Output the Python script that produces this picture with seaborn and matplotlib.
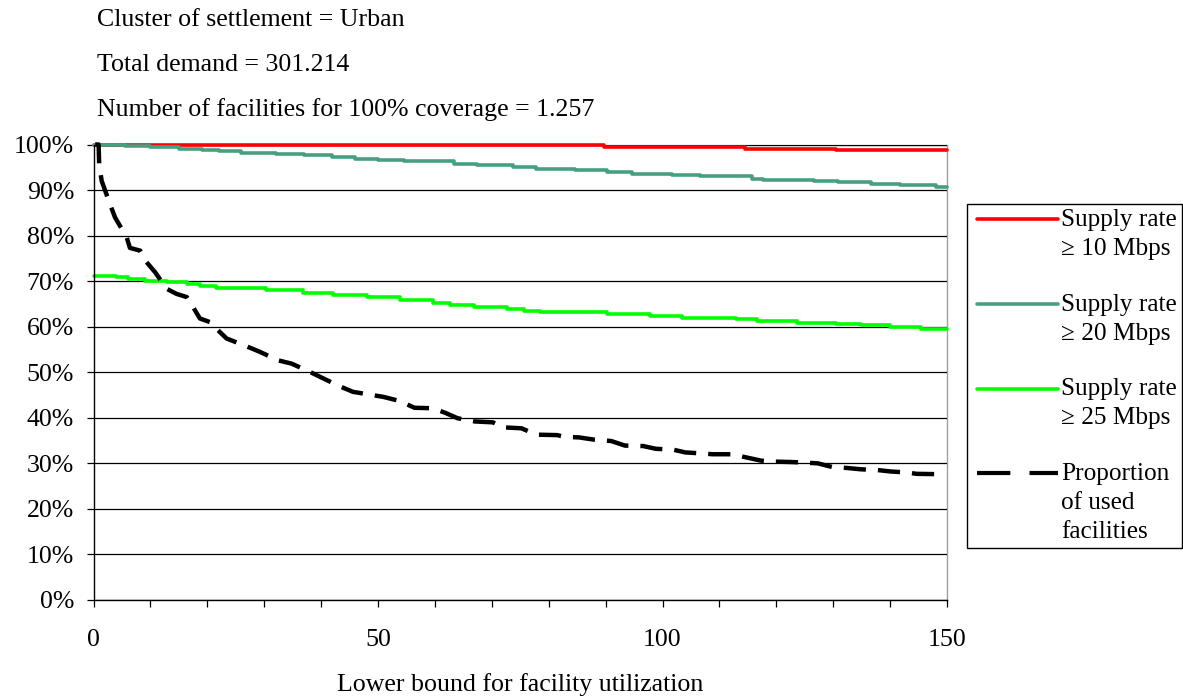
import numpy as np
import pandas as pd
import matplotlib
matplotlib.use("Agg")
import matplotlib.pyplot as plt
import seaborn as sns
from matplotlib.lines import Line2D
from matplotlib.legend_handler import HandlerLine2D
from matplotlib.ticker import MultipleLocator, FixedLocator, FuncFormatter

# Coverage (%) against the lower bound for facility utilization
rate10_x = [0, 89.7, 114.5, 130.5, 150]
rate10_y = [99.8, 99.4, 99.0, 98.7, 98.7]

rate20_x = [0, 5.5, 10, 15, 19, 22, 26, 32, 37, 42, 46, 50, 54.5, 63.3, 67.4,
            73.7, 77.8, 84.7, 90.3, 94.7, 101.6, 106.6, 115.7, 117.6, 126.7,
            130.8, 136.7, 141.7, 148.0, 150]
rate20_y = [100, 99.7, 99.4, 99.1, 98.8, 98.5, 98.2, 97.9, 97.6, 97.2, 96.9,
            96.6, 96.3, 95.8, 95.5, 95.0, 94.6, 94.3, 94.0, 93.6, 93.4, 93.1,
            92.5, 92.3, 91.9, 91.7, 91.4, 91.0, 90.7, 90.7]

rate25_x = [0, 4, 6, 9, 13, 16.4, 18.7, 21.6, 30.4, 36.8, 42.1, 48, 53.8, 59.6,
            62.7, 66.8, 72.7, 75.6, 78.4, 90.3, 97.8, 103.5, 112.9, 116.6,
            123.6, 130.5, 134.8, 139.9, 145.5, 150]
rate25_y = [71.1, 70.9, 70.4, 70.1, 69.8, 69.4, 68.9, 68.5, 68.0, 67.4, 67.0,
            66.5, 65.9, 65.3, 64.8, 64.3, 63.8, 63.5, 63.3, 62.8, 62.3, 62.0,
            61.6, 61.3, 60.9, 60.7, 60.4, 60.0, 59.6, 59.6]

used_x = [0.3, 0.9, 1.0, 1.44, 2.9, 3.78, 5.84, 6.4, 8.2, 9.3, 10.8, 12.9,
          14.6, 16.4, 17.5, 18.7, 20.5, 21.9, 23.4, 26.9, 29.2, 32.5, 34.8,
          38.0, 39.8, 43.3, 45.6, 48, 50.9, 53.8, 56.4, 59.6, 61.8, 64.0, 67,
          70.2, 72, 75.2, 77.8, 81.5, 82.8, 85.3, 88, 91, 93.4, 96.6, 98.8,
          101.9, 104, 106.6, 108.8, 112.3, 114, 117.3, 119.2, 122.3, 124.5,
          127.3, 129.8, 132.3, 134.8, 138, 140.2, 143, 144.6, 149.5]
used_y = [100, 100, 95.5, 92, 86.9, 84, 79.6, 77.3, 76.7, 74.2, 72, 68.3,
          67.2, 66.5, 64.3, 61.8, 61.0, 59.2, 57.4, 55.7, 54.5, 52.6, 51.9,
          50.1, 49.0, 46.9, 45.7, 45.2, 44.6, 43.7, 42.2, 42.1, 41.1, 39.9,
          39.2, 39.0, 37.9, 37.7, 36.3, 36.2, 35.8, 35.7, 35.2, 34.9, 33.9,
          33.8, 33.2, 33.0, 32.4, 32.2, 32.0, 32.0, 31.5, 30.6, 30.4, 30.3,
          30.2, 30.0, 29.2, 29.0, 28.7, 28.5, 28.2, 28.0, 27.7, 27.6]

series_labels = ["Supply rate\n\u2265 10 Mbps", "Supply rate\n\u2265 20 Mbps",
                 "Supply rate\n\u2265 25 Mbps", "Proportion\nof used\nfacilities"]
header_lines = ["Cluster of settlement = Urban",
                "Total demand = 301.214",
                "Number of facilities for 100% coverage = 1.257"]
x_label = "Lower bound for facility utilization"

red, teal, green = "#ff0000", "#46a080", "#00ff00"
dash = (0, (5.0, 2.7))
fs = 18.6
legend_fs = 18.2

sns.set_theme(style="white")
plt.rcParams["font.family"] = ["Liberation Serif", "DejaVu Serif"]
plt.rcParams["text.color"] = "black"

fig = plt.figure(figsize=(11.83, 6.98), dpi=100)
ax = fig.add_axes([93.5 / 1183, 1 - 600 / 698, (947 - 93.5) / 1183, (600 - 144.5) / 698])

sns.lineplot(x=rate10_x, y=rate10_y, ax=ax, color=red, lw=2.6,
             drawstyle="steps-post", errorbar=None, legend=False, clip_on=False)
sns.lineplot(x=rate20_x, y=rate20_y, ax=ax, color=teal, lw=2.6,
             drawstyle="steps-post", errorbar=None, legend=False, clip_on=False)
sns.lineplot(x=rate25_x, y=rate25_y, ax=ax, color=green, lw=2.6,
             drawstyle="steps-post", errorbar=None, legend=False, clip_on=False)
sns.lineplot(x=used_x, y=used_y, ax=ax, color="black", lw=3.2,
             linestyle=dash, errorbar=None, legend=False, clip_on=False)

ax.set_xlim(0, 150)
ax.set_ylim(0, 100)
ax.xaxis.set_major_locator(FixedLocator([0, 50, 100, 150]))
ax.xaxis.set_minor_locator(MultipleLocator(10))
ax.yaxis.set_major_locator(MultipleLocator(10))
ax.yaxis.set_major_formatter(FuncFormatter(lambda v, p: f"{v:.0f}%"))
ax.tick_params(axis="both", which="both", direction="out", length=5, width=0.9,
               color="black", bottom=True, left=True, labelsize=fs,
               labelcolor="black")
ax.tick_params(axis="x", which="major", pad=16)
ax.tick_params(axis="y", which="major", pad=9)
ax.grid(axis="y", color="black", lw=0.9)
ax.set_axisbelow(True)
for side in ("left", "bottom"):
    ax.spines[side].set_color("black")
    ax.spines[side].set_linewidth(1.0)
for side in ("top", "right"):
    ax.spines[side].set_color("#a0a0a0")
    ax.spines[side].set_linewidth(1.0)
    ax.spines[side].set_zorder(0.5)

ax.set_xlabel(x_label, fontsize=fs, labelpad=16, color="black")
ax.set_ylabel("")

for i, line in enumerate(header_lines):
    fig.text(97 / 1183, 1 - (20 + 45 * i) / 698, line, fontsize=fs,
             ha="left", va="center", color="black")


class TopAlignedLine(HandlerLine2D):
    """Legend line aligned with the first row of a multi-line label,
    with its left end inset from the legend border."""

    def __init__(self, shift, inset, **kw):
        super().__init__(**kw)
        self.shift = shift
        self.inset = inset

    def create_artists(self, legend, orig_handle, xdescent, ydescent, width,
                       height, fontsize, trans):
        artists = super().create_artists(legend, orig_handle, xdescent,
                                         ydescent, width, height, fontsize,
                                         trans)
        for a in artists:
            a.set_ydata(np.asarray(a.get_ydata()) + self.shift * fontsize)
            xd = np.asarray(a.get_xdata(), dtype=float)
            xd[0] += self.inset * fontsize
            a.set_xdata(xd)
        return artists


line_gap = 0.58
handles = [Line2D([], [], color=red, lw=2.6),
           Line2D([], [], color=teal, lw=2.6),
           Line2D([], [], color=green, lw=2.6),
           Line2D([], [], color="black", lw=3.0, linestyle=(0, (8.0, 4.6)))]
hmap = {h: TopAlignedLine(line_gap * lab.count("\n"), 0.2)
        for h, lab in zip(handles, series_labels)}
leg = fig.legend(handles, series_labels, loc="upper left",
                 bbox_to_anchor=(967 / 1183, 1 - 204 / 698),
                 bbox_transform=fig.transFigure, frameon=True, fancybox=False,
                 edgecolor="black", framealpha=1, fontsize=legend_fs,
                 handlelength=3.4, handletextpad=0.13, labelspacing=1.34,
                 borderpad=0.2, borderaxespad=0, handler_map=hmap)
for t in leg.get_texts():
    t.set_linespacing(1.4)
leg.get_frame().set_linewidth(1.0)

fig.savefig("out.png", dpi=100)
